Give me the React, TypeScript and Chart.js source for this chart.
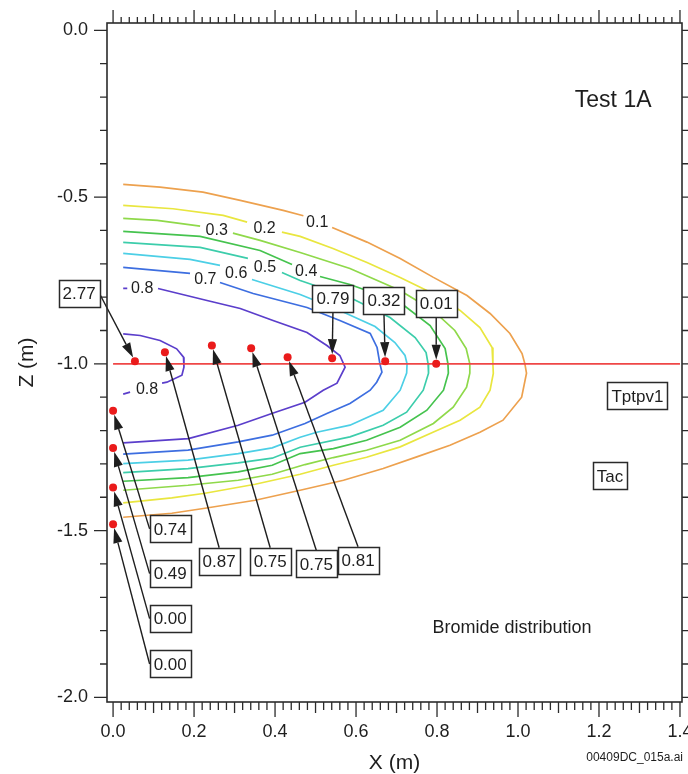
import React, { useEffect, useRef } from "react";
import { Chart, registerables } from "chart.js";

Chart.register(...registerables);

const FONT = '"Liberation Sans", Arial, Helvetica, sans-serif';

// ---- axis ranges ----
const xMin = -0.015;
const xMax = 1.405;
const zMin = -2.014;
const zMax = 0.022;
const xTickStep = 0.2;
const zTickStep = 0.5;

type P = [number, number] | null;

// ---- bromide concentration contours (x, z in m); null = gap for inline label ----
const contour01: P[] = [
  [0.025, -0.462], [0.116, -0.47], [0.222, -0.485], [0.314, -0.51], [0.42, -0.54], [0.47, -0.556], null,
  [0.541, -0.591], [0.627, -0.635], [0.709, -0.684], [0.79, -0.74], [0.874, -0.795], [0.931, -0.849],
  [0.98, -0.909], [1.01, -0.969], [1.017, -1.0], [1.021, -1.028], [1.009, -1.1], [0.963, -1.169],
  [0.906, -1.205], [0.832, -1.244], [0.75, -1.279], [0.667, -1.314], [0.569, -1.349], [0.462, -1.379],
  [0.351, -1.409], [0.227, -1.433], [0.145, -1.448], [0.025, -1.46],
];
const contour02: P[] = [
  [0.025, -0.525], [0.148, -0.535], [0.272, -0.555], [0.331, -0.575], null,
  [0.417, -0.605], [0.462, -0.618], [0.543, -0.654], [0.627, -0.696], [0.709, -0.741], [0.79, -0.789],
  [0.857, -0.84], [0.906, -0.891], [0.936, -0.951], [0.938, -1.0], [0.939, -1.029], [0.931, -1.079],
  [0.906, -1.13], [0.857, -1.169], [0.79, -1.205], [0.709, -1.249], [0.626, -1.28], [0.544, -1.304],
  [0.462, -1.331], [0.351, -1.361], [0.227, -1.388], [0.145, -1.402], [0.025, -1.417],
];
const contour03: P[] = [
  [0.025, -0.564], [0.109, -0.57], [0.215, -0.587], null,
  [0.296, -0.608], [0.363, -0.63], [0.462, -0.666], [0.585, -0.714], [0.709, -0.78], [0.79, -0.84],
  [0.844, -0.9], [0.872, -0.954], [0.881, -1.0], [0.881, -1.028], [0.873, -1.07], [0.84, -1.13],
  [0.791, -1.179], [0.709, -1.229], [0.626, -1.259], [0.544, -1.281], [0.474, -1.302], [0.393, -1.331],
  [0.309, -1.349], [0.185, -1.364], [0.025, -1.379],
];
const contour04: P[] = [
  [0.025, -0.603], [0.215, -0.618], [0.363, -0.66], [0.442, -0.702], null,
  [0.511, -0.738], [0.585, -0.762], [0.709, -0.816], [0.783, -0.885], [0.82, -0.954], [0.827, -1.0],
  [0.828, -1.028], [0.816, -1.079], [0.775, -1.139], [0.709, -1.19], [0.626, -1.229], [0.544, -1.254],
  [0.462, -1.269], [0.393, -1.304], [0.309, -1.324], [0.185, -1.341], [0.025, -1.352],
];
const contour05: P[] = [
  [0.025, -0.636], [0.215, -0.651], [0.333, -0.684], null,
  [0.417, -0.726], [0.462, -0.75], [0.585, -0.801], [0.684, -0.861], [0.746, -0.921], [0.773, -0.966],
  [0.778, -1.0], [0.779, -1.028], [0.766, -1.079], [0.725, -1.145], [0.667, -1.184], [0.585, -1.219],
  [0.462, -1.25], [0.393, -1.283], [0.309, -1.297], [0.185, -1.314], [0.025, -1.326],
];
const contour06: P[] = [
  [0.025, -0.669], [0.19, -0.687], [0.264, -0.705], null,
  [0.343, -0.747], [0.462, -0.792], [0.56, -0.84], [0.647, -0.888], [0.696, -0.936], [0.721, -0.975],
  [0.726, -1.0], [0.725, -1.028], [0.709, -1.079], [0.667, -1.139], [0.585, -1.184], [0.503, -1.205],
  [0.462, -1.22], [0.393, -1.252], [0.309, -1.269], [0.185, -1.289], [0.025, -1.299],
];
const contour07: P[] = [
  [0.025, -0.711], [0.19, -0.729], null,
  [0.264, -0.756], [0.346, -0.789], [0.479, -0.831], [0.56, -0.87], [0.635, -0.909], [0.652, -0.951],
  [0.659, -1.0], [0.664, -1.025], [0.651, -1.055], [0.635, -1.079], [0.585, -1.119], [0.528, -1.149],
  [0.474, -1.179], [0.393, -1.214], [0.309, -1.234], [0.185, -1.259], [0.025, -1.271],
];
const contour08: P[] = [
  [0.025, -0.774], [0.035, -0.774], null,
  [0.111, -0.774], [0.232, -0.81], [0.314, -0.834], [0.395, -0.87], [0.479, -0.906], [0.528, -0.945],
  [0.56, -0.975], [0.573, -1.01], [0.553, -1.058], [0.519, -1.079], [0.474, -1.115], [0.392, -1.149],
  [0.309, -1.184], [0.186, -1.224], [0.025, -1.237],
];
const contour08inner: P[] = [
  [0.025, -0.91], [0.067, -0.915], [0.116, -0.93], [0.157, -0.955], [0.174, -0.98], [0.175, -1.01],
  [0.17, -1.034], [0.133, -1.055], [0.121, -1.058], null, [0.042, -1.085], [0.025, -1.091],
];

const contourSets = [contour01, contour02, contour03, contour04, contour05, contour06, contour07, contour08, contour08inner];
const contourColors = ["#eda14e", "#e9e63f", "#8fd94a", "#45c34e", "#3ccdab", "#4ccfe6", "#3d6ee0", "#5b3ecb", "#5b3ecb"];

// inline contour labels
const contourLabelText = ["0.1", "0.2", "0.3", "0.4", "0.5", "0.6", "0.7", "0.8", "0.8"];
const contourLabelX = [0.504, 0.374, 0.256, 0.477, 0.375, 0.304, 0.228, 0.072, 0.084];
const contourLabelZ = [-0.573, -0.59, -0.597, -0.72, -0.708, -0.726, -0.743, -0.771, -1.073];

// ---- sensor points and measured values ----
const sensorX = [0.054, 0.128, 0.244, 0.341, 0.431, 0.541, 0.672, 0.798, 0.0, 0.0, 0.0, 0.0];
const sensorZ = [-0.992, -0.965, -0.945, -0.953, -0.98, -0.983, -0.992, -1.0, -1.141, -1.252, -1.371, -1.481];
const sensorValue = ["2.77", "0.87", "0.75", "0.75", "0.81", "0.79", "0.32", "0.01", "0.74", "0.49", "0.00", "0.00"];

// callout box centres (x, z) and the side from which the arrow leaves
const calloutX = [-0.084, 0.262, 0.388, 0.502, 0.605, 0.543, 0.669, 0.798, 0.141, 0.141, 0.141, 0.141];
const calloutZ = [-0.79, -1.592, -1.592, -1.6, -1.589, -0.804, -0.811, -0.819, -1.495, -1.629, -1.764, -1.9];
const calloutSide = ["right", "top", "top", "top", "top", "bottom", "bottom", "bottom", "left", "left", "left", "left"];

// horizontal reference line
const refLineX = [0.0, 1.4];
const refLineZ = [-1.0, -1.0];

// unit labels
const unitLabels = ["Tptpv1", "Tac"];
const unitX = [1.295, 1.227];
const unitZ = [-1.096, -1.336];

const titleText = "Test 1A";
const titleX = 1.235;
const titleZ = -0.21;
const noteText = "Bromide distribution";
const noteX = 0.985;
const noteZ = -1.793;
const fileText = "00409DC_015a.ai";

const INK = "#1e1e1e";

function drawBox(ctx: CanvasRenderingContext2D, cx: number, cy: number, text: string, size: number) {
  ctx.font = `${size}px ${FONT}`;
  const w = Math.round(ctx.measureText(text).width + 8);
  const h = 27;
  const x0 = Math.round(cx - w / 2) + 0.5;
  const y0 = Math.round(cy - h / 2) + 0.5;
  ctx.fillStyle = "#ffffff";
  ctx.fillRect(x0, y0, w, h);
  ctx.strokeStyle = "#2a2a2a";
  ctx.lineWidth = 1.5;
  ctx.strokeRect(x0, y0, w, h);
  ctx.fillStyle = INK;
  ctx.textAlign = "center";
  ctx.textBaseline = "middle";
  ctx.fillText(text, cx, cy + 1);
  return { w, h };
}

const decorPlugin = {
  id: "decor",
  afterDatasetsDraw(chart: any) {
    const ctx: CanvasRenderingContext2D = chart.ctx;
    const xs = chart.scales.x;
    const ys = chart.scales.y;
    const px = (v: number) => xs.getPixelForValue(v);
    const py = (v: number) => ys.getPixelForValue(v);
    ctx.save();

    // contour labels
    ctx.font = `16px ${FONT}`;
    ctx.fillStyle = INK;
    ctx.textAlign = "center";
    ctx.textBaseline = "middle";
    contourLabelText.forEach((t, i) => ctx.fillText(t, px(contourLabelX[i]), py(contourLabelZ[i]) + 1));

    // callout arrows
    ctx.font = `17px ${FONT}`;
    sensorValue.forEach((val, i) => {
      const cx = px(calloutX[i]);
      const cy = py(calloutZ[i]);
      const w = ctx.measureText(val).width + 8;
      const h = 27;
      let ax = cx, ay = cy;
      const side = calloutSide[i];
      if (side === "right") ax = cx + w / 2;
      if (side === "left") ax = cx - w / 2;
      if (side === "top") ay = cy - h / 2;
      if (side === "bottom") ay = cy + h / 2;
      const mx = px(sensorX[i]);
      const my = py(sensorZ[i]);
      const dx = ax - mx, dy = ay - my;
      const len = Math.hypot(dx, dy);
      const ux = dx / len, uy = dy / len;
      const tx = mx + ux * 4, ty = my + uy * 4;
      const bx = tx + ux * 15, by = ty + uy * 15;
      ctx.strokeStyle = INK;
      ctx.lineWidth = 1.4;
      ctx.beginPath();
      ctx.moveTo(ax, ay);
      ctx.lineTo(bx, by);
      ctx.stroke();
      ctx.fillStyle = INK;
      ctx.beginPath();
      ctx.moveTo(tx, ty);
      ctx.lineTo(bx - uy * 4.6, by + ux * 4.6);
      ctx.lineTo(bx + uy * 4.6, by - ux * 4.6);
      ctx.closePath();
      ctx.fill();
    });

    // callout boxes
    sensorValue.forEach((val, i) => {
      drawBox(ctx, px(calloutX[i]), py(calloutZ[i]), val, 17);
    });

    // unit boxes
    unitLabels.forEach((t, i) => drawBox(ctx, px(unitX[i]), py(unitZ[i]), t, 17));

    // texts
    ctx.fillStyle = INK;
    ctx.textAlign = "center";
    ctx.textBaseline = "middle";
    ctx.font = `23px ${FONT}`;
    ctx.fillText(titleText, px(titleX), py(titleZ));
    ctx.font = `18px ${FONT}`;
    ctx.fillText(noteText, px(noteX), py(noteZ));

    ctx.restore();
  },
  afterDraw(chart: any) {
    const ctx: CanvasRenderingContext2D = chart.ctx;
    const a = chart.chartArea;
    const xs = chart.scales.x;
    const ys = chart.scales.y;
    ctx.save();
    ctx.strokeStyle = "#2b2b2b";
    ctx.lineWidth = 1.6;
    ctx.strokeRect(a.left, a.top, a.right - a.left, a.bottom - a.top);
    ctx.lineWidth = 1.3;
    ctx.beginPath();
    for (let i = 0; i <= 70; i++) {
      const x = xs.getPixelForValue(i * 0.02);
      const major = i % 10 === 0;
      const mid = i % 5 === 0;
      const lb = major ? 15 : mid ? 11 : 8;
      const lt = major ? 13 : mid ? 9 : 6;
      ctx.moveTo(x, a.bottom);
      ctx.lineTo(x, a.bottom + lb);
      ctx.moveTo(x, a.top);
      ctx.lineTo(x, a.top - lt);
    }
    for (let i = 0; i <= 20; i++) {
      const y = ys.getPixelForValue(-i * 0.1);
      const major = i % 5 === 0;
      ctx.moveTo(a.left, y);
      ctx.lineTo(a.left - (major ? 13 : 7), y);
      ctx.moveTo(a.right, y);
      ctx.lineTo(a.right + 6, y);
    }
    ctx.stroke();

    ctx.fillStyle = INK;
    ctx.font = `12px ${FONT}`;
    ctx.textAlign = "right";
    ctx.textBaseline = "middle";
    ctx.fillText(fileText, a.right + 1, a.bottom + 56);
    ctx.restore();
  },
};

export default function App() {
  const ref = useRef<HTMLCanvasElement | null>(null);

  useEffect(() => {
    if (!ref.current) return;
    const datasets: any[] = contourSets.map((pts, i) => ({
      label: contourLabelText[i],
      data: pts.map((p) => (p ? { x: p[0], y: p[1] } : { x: NaN, y: NaN })),
      showLine: true,
      borderColor: contourColors[i],
      borderWidth: 1.7,
      pointRadius: 0,
      fill: false,
      spanGaps: false,
      tension: 0,
      order: 3,
    }));
    datasets.push({
      label: "ref",
      data: refLineX.map((x, i) => ({ x, y: refLineZ[i] })),
      showLine: true,
      borderColor: "#ef4747",
      borderWidth: 1.6,
      pointRadius: 0,
      order: 2,
    });
    datasets.push({
      label: "sensors",
      data: sensorX.map((x, i) => ({ x, y: sensorZ[i] })),
      showLine: false,
      pointRadius: 4,
      pointBackgroundColor: "#ea1b1b",
      pointBorderColor: "#ea1b1b",
      pointBorderWidth: 0,
      order: 1,
    });

    const chart = new Chart(ref.current, {
      type: "scatter",
      data: { datasets },
      options: {
        animation: false,
        responsive: false,
        events: [],
        layout: { padding: { top: 23, right: 6, left: 0, bottom: 0 } },
        plugins: { legend: { display: false }, tooltip: { enabled: false } },
        scales: {
          x: {
            type: "linear",
            position: "bottom",
            min: xMin,
            max: xMax,
            grid: { display: false, drawTicks: false },
            border: { display: false },
            ticks: {
              stepSize: xTickStep,
              includeBounds: false,
              autoSkip: false,
              maxRotation: 0,
              padding: 19,
              color: INK,
              font: { family: FONT, size: 18 },
              callback: (v: any) => Number(v).toFixed(1),
            },
            title: {
              display: true,
              text: "X (m)",
              color: INK,
              font: { family: FONT, size: 21, lineHeight: 1 },
              padding: { top: 0, bottom: 0 },
            },
            afterFit: (s: any) => {
              s.height = 72;
              s.paddingLeft = 0;
              s.paddingRight = 0;
            },
          },
          y: {
            type: "linear",
            position: "left",
            min: zMin,
            max: zMax,
            grid: { display: false, drawTicks: false },
            border: { display: false },
            ticks: {
              stepSize: zTickStep,
              includeBounds: false,
              padding: 19,
              color: INK,
              font: { family: FONT, size: 18 },
              callback: (v: any) => Number(v).toFixed(1),
            },
            title: {
              display: true,
              text: "Z (m)",
              color: INK,
              font: { family: FONT, size: 21, lineHeight: 1 },
              padding: { top: 17, bottom: 0 },
            },
            afterFit: (s: any) => {
              s.width = 107;
              s.paddingTop = 0;
              s.paddingBottom = 0;
            },
          },
        },
      } as any,
      plugins: [decorPlugin],
    });
    return () => chart.destroy();
  }, []);

  return (
    <div style={{ position: "absolute", left: 0, top: 0, width: 688, height: 774, background: "#fff" }}>
      <canvas ref={ref} width={688} height={774} style={{ display: "block", width: 688, height: 774 }} />
    </div>
  );
}
